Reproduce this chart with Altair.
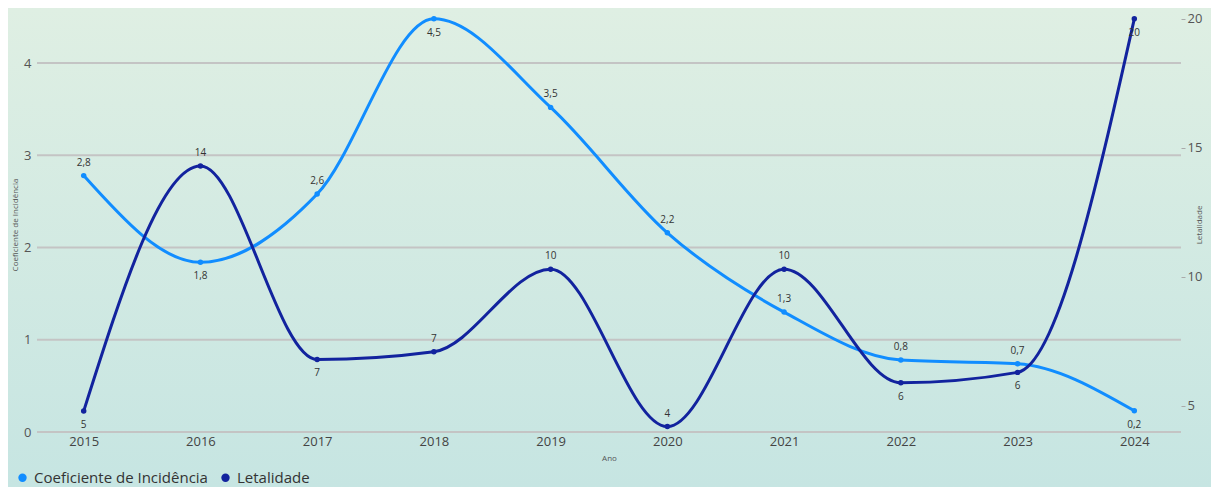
import altair as alt
import pandas as pd

anos = ["2015", "2016", "2017", "2018", "2019", "2020", "2021", "2022", "2023", "2024"]
incidencia = [2.78, 1.84, 2.58, 4.48, 3.52, 2.16, 1.30, 0.78, 0.74, 0.23]
letalidade = [4.8, 14.3, 6.8, 7.1, 10.3, 4.2, 10.3, 5.9, 6.3, 20.0]
inc_label_side = ["above", "below", "above", "below", "above", "above", "above", "above", "above", "below"]
let_label_side = ["below", "above", "below", "above", "above", "above", "above", "below", "below", "below"]
inc_ticks = [0, 1, 2, 3, 4]
let_ticks = [5, 10, 15, 20]
series = ["Coeficiente de Incidência", "Letalidade"]
colors = ["#118DFF", "#12239E"]

df = pd.DataFrame({
    "ano": anos,
    "inc": incidencia,
    "let": letalidade,
    "inc_pos": inc_label_side,
    "let_pos": let_label_side,
    "s_inc": [series[0]] * len(anos),
    "s_let": [series[1]] * len(anos),
})
grid_df = pd.DataFrame({"inc": inc_ticks})

W, H = 1144, 415
PL, PT, PR, PB = 29, 9, 30, 55
FONT = "Open Sans"

x_enc = alt.X(
    "ano:O",
    scale=alt.Scale(type="point", padding=0.4),
    axis=alt.Axis(
        orient="bottom", labelAngle=0, domain=False, ticks=False, grid=False, zindex=1,
        labelFontSize=13, labelColor="#444", labelPadding=3,
        title="Ano", titleFontSize=8, titleFontWeight="normal", titleColor="#555",
        titlePadding=6,
    ),
)

color_scale = alt.Scale(domain=series, range=colors)
legend = alt.Legend(
    title=None, orient="none", direction="horizontal", legendX=-22, legendY=453,
    symbolType="circle", symbolSize=70, symbolStrokeWidth=0, labelFontSize=15,
    labelColor="#333", labelOffset=4, columnPadding=10, labelFont=FONT, labelLimit=500,
)

y_inc = alt.Y(
    "inc:Q",
    scale=alt.Scale(domain=[0, 4.5], nice=False, zero=False),
    axis=alt.Axis(
        orient="left", values=inc_ticks, grid=False, zindex=1,
        domain=False, ticks=False, labelPadding=6, labelFontSize=13, labelColor="#555",
        title="Coeficiente de Incidência", titleFontSize=8, titleFontWeight="normal",
        titleColor="#555", titlePadding=4,
    ),
)

y_let = alt.Y(
    "let:Q",
    scale=alt.Scale(domain=[3.99, 20.07], nice=False, zero=False),
    axis=alt.Axis(
        orient="right", values=let_ticks, grid=False, domain=False, ticks=True, zindex=1,
        tickSize=4, tickColor="#aaa", labelPadding=2, labelFontSize=13, labelColor="#555",
        title="Letalidade", titleFontSize=8, titleFontWeight="normal", titleColor="#555",
        titlePadding=2, titleAngle=270,
    ),
)

bg = alt.Chart(pd.DataFrame({"k": [0]})).mark_rect(
    color=alt.LinearGradient(
        gradient="linear",
        stops=[alt.GradientStop(color="#dfefe3", offset=0), alt.GradientStop(color="#c6e5e2", offset=1)],
        x1=0, x2=0, y1=0, y2=1,
    )
).encode(
    x=alt.value(-PL), x2=alt.value(W + PR), y=alt.value(-PT), y2=alt.value(H + PB)
)

grid = alt.Chart(grid_df).mark_rule(color="#c4c4c4", strokeWidth=2).encode(y=y_inc)

inc_base = alt.Chart(df).encode(x=x_enc, y=y_inc)
inc_line = inc_base.mark_line(interpolate="monotone", strokeWidth=3).encode(
    color=alt.Color("s_inc:N", scale=color_scale, legend=legend)
)
inc_pts = inc_base.mark_circle(size=30, opacity=1).encode(
    color=alt.Color("s_inc:N", scale=color_scale, legend=legend)
)
inc_lbl = "replace(format(datum.inc, '.1f'), '.', ',')"
inc_above = inc_base.transform_filter("datum.inc_pos == 'above'").transform_calculate(
    lbl=inc_lbl).mark_text(dy=-13, fontSize=10, color="#333", font=FONT).encode(text="lbl:N")
inc_below = inc_base.transform_filter("datum.inc_pos == 'below'").transform_calculate(
    lbl=inc_lbl).mark_text(dy=14, fontSize=10, color="#333", font=FONT).encode(text="lbl:N")
inc_layer = alt.layer(grid, inc_line, inc_pts, inc_above, inc_below)

let_base = alt.Chart(df).encode(x=x_enc, y=y_let)
let_line = let_base.mark_line(interpolate="monotone", strokeWidth=3).encode(
    color=alt.Color("s_let:N", scale=color_scale, legend=legend)
)
let_pts = let_base.mark_circle(size=30, opacity=1).encode(
    color=alt.Color("s_let:N", scale=color_scale, legend=legend)
)
let_lbl = "format(datum.let, '.0f')"
let_above = let_base.transform_filter("datum.let_pos == 'above'").transform_calculate(
    lbl=let_lbl).mark_text(dy=-13, fontSize=10, color="#333", font=FONT).encode(text="lbl:N")
let_below = let_base.transform_filter("datum.let_pos == 'below'").transform_calculate(
    lbl=let_lbl).mark_text(dy=14, fontSize=10, color="#333", font=FONT).encode(text="lbl:N")
let_layer = alt.layer(let_line, let_pts, let_above, let_below)

chart = alt.layer(bg, inc_layer, let_layer).resolve_scale(y="independent").properties(
    width=W, height=H,
    autosize=alt.AutoSizeParams(type="none"),
    padding={"left": PL, "top": PT, "right": PR, "bottom": PB},
    background="white",
).configure_view(strokeWidth=0).configure(font=FONT)

chart.save("out.html", embed_options={"renderer": "svg", "actions": False})
